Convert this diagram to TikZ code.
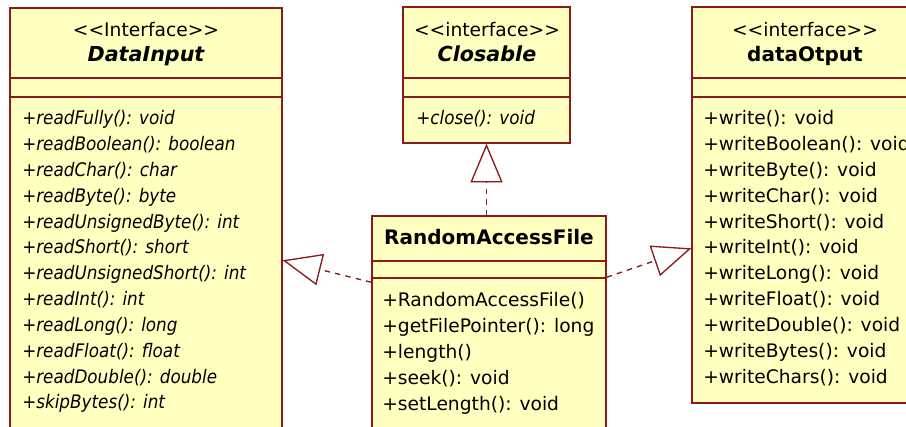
\documentclass[tikz,border=0pt]{standalone}
\usepackage{fontspec}
\setmainfont{DejaVu Sans}[Ligatures=TeXOff]
\newfontfamily\condfont{DejaVu Sans Condensed}[Ligatures=TeXOff]
\usetikzlibrary{arrows.meta,fit,calc}
\definecolor{umlfill}{RGB}{255,255,192}
\definecolor{umlline}{RGB}{140,26,26}
\tikzset{
  umlbox/.style={draw=umlline, fill=umlfill, line width=1.1pt, inner sep=0pt},
  sepline/.style={draw=umlline, line width=1.1pt},
  ctext/.style={anchor=base, inner sep=0pt, font=\fontsize{14}{16}\selectfont},
  btext/.style={anchor=base, inner sep=0pt, font=\fontsize{15}{17}\selectfont\bfseries},
  bitext/.style={anchor=base, inner sep=0pt, font=\fontsize{15.5}{17}\selectfont\bfseries\itshape},
  mtext/.style={anchor=base west, inner sep=0pt, font=\fontsize{14}{16}\selectfont},
  mitext/.style={anchor=base west, inner sep=0pt, font=\fontsize{14}{16}\selectfont\condfont\itshape},
  realize/.style={draw=umlline, line width=1pt, dash pattern=on 4pt off 4pt,
    -{Triangle[length=29pt,width=24pt,fill=white]}},
}
\begin{document}
\begin{tikzpicture}[x=0.75pt,y=-0.75pt]
\useasboundingbox (0,0) rectangle (906,427);
\clip (0,0) rectangle (906,427);
\fill[white] (0,0) rectangle (906,427);

% DataInput
\node[umlbox, fit={(10,8)(282,445)}] (di) {};
\draw[sepline] (10,78) -- (282,78) (10,97) -- (282,97);
\node[ctext] (diS) at (146,37) {<<Interface>>};
\node[bitext] (diN) at (146,62) {DataInput};
\foreach \t [count=\i from 0] in {+readFully(): void,+readBoolean(): boolean,+readChar(): char,+readByte(): byte,+readUnsignedByte(): int,+readShort(): short,+readUnsignedShort(): int,+readInt(): int,+readLong(): long,+readFloat(): float,+readDouble(): double,+skipBytes(): int}
  \node[mitext] (diM\i) at (22,{125+25.8*\i}) {\t};

% Closable
\node[umlbox, fit={(403,7)(570,143)}] (clo) {};
\draw[sepline] (403,78) -- (570,78) (403,97) -- (570,97);
\node[ctext] (cloS) at (487,37) {<<interface>>};
\node[bitext] (cloN) at (487,62) {Closable};
\node[mitext] (cloM0) at (416,125) {+close(): void};

% dataOtput
\node[umlbox, fit={(692,7)(918,403)}] (dout) {};
\draw[sepline] (692,78) -- (918,78) (692,97) -- (918,97);
\node[ctext] (doS) at (805,37) {<<interface>>};
\node[btext] (doN) at (805,62) {dataOtput};
\foreach \t [count=\i from 0] in {+write(): void,+writeBoolean(): void,+writeByte(): void,+writeChar(): void,+writeShort(): void,+writeInt(): void,+writeLong(): void,+writeFloat(): void,+writeDouble(): void,+writeBytes(): void,+writeChars(): void}
  \node[mtext] (doM\i) at (703,{125+25.8*\i}) {\t};

% RandomAccessFile
\node[umlbox, fit={(372,216)(606,445)}] (raf) {};
\draw[sepline] (372,261) -- (606,261) (372,278) -- (606,278);
\node[btext] (rafN) at (489,245) {RandomAccessFile};
\foreach \t [count=\i from 0] in {+RandomAccessFile(),+getFilePointer(): long,+length(),+seek(): void,+setLength(): void}
  \node[mtext] (rafM\i) at (382,{307+25.8*\i}) {\t};

% realizations
\draw[realize] ($(raf.north west)+(0,67)$) -- ($(di.north east)+(0,253)$);
\draw[realize] (raf.north -| clo.south) -- (clo.south);
\draw[realize] ($(raf.north east)+(0,62)$) -- ($(dout.north west)+(0,242)$);
\end{tikzpicture}
\end{document}
